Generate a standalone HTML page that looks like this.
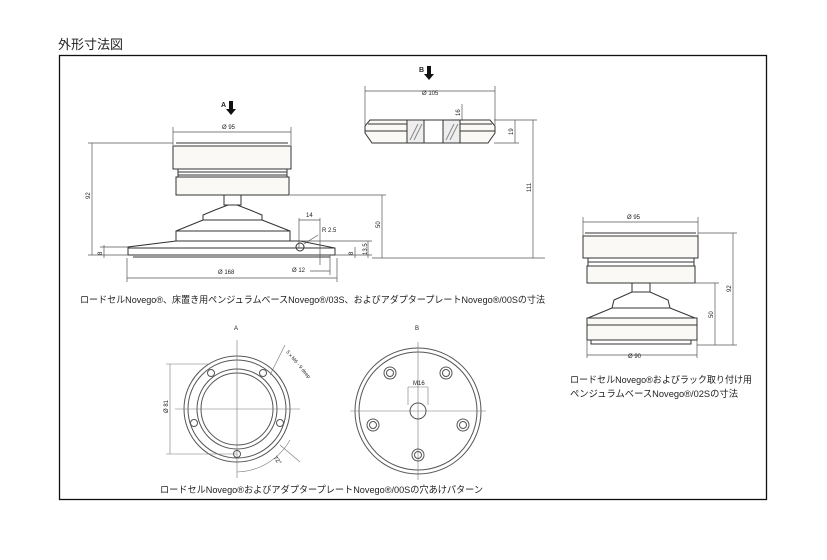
<!DOCTYPE html>
<html><head><meta charset="utf-8"><style>
body{margin:0;background:#fff;width:827px;height:560px;overflow:hidden}
svg{display:block}
text{font-family:"Liberation Sans","Noto Sans CJK JP",sans-serif;fill:#222}
</style></head><body>
<svg width="827" height="560" viewBox="0 0 827 560" xmlns="http://www.w3.org/2000/svg">
<text x="58" y="49" font-size="13">外形寸法図</text>
<rect x="59.5" y="55.5" width="707" height="444" fill="none" stroke="#111" stroke-width="1.3"/>

<g fill="none" stroke="#333" stroke-width="1">
<rect x="173" y="146" width="118" height="23" fill="#fbf9f6"/>
<line x1="176" y1="143" x2="288" y2="143"/><line x1="174" y1="146" x2="290" y2="146"/>
<line x1="178" y1="169" x2="178" y2="177"/><line x1="287" y1="169" x2="287" y2="177"/>
<line x1="178" y1="172" x2="287" y2="172"/><line x1="178" y1="175" x2="287" y2="175"/>
<rect x="176" y="177" width="113" height="18" fill="#fbf9f6"/>
<rect x="224" y="195" width="17" height="10"/>
<path d="M228 205 L237 205 L250 210 L262 215 L262 220 L203 220 L203 215 L215 210 Z"/>
<path d="M203 220 L176 231 L290 231 L262 220"/>
<rect x="176" y="231" width="114" height="10"/>
<path d="M176 241 L128 247 L128 255 L335 255 L335 248 L300 241 Z"/>
<line x1="133" y1="257" x2="330" y2="257"/>
<line x1="128" y1="248" x2="335" y2="248"/>
<circle cx="300" cy="247" r="4"/>
<g stroke="#555" stroke-width="0.7">
<line x1="173" y1="132" x2="291" y2="132"/><line x1="173" y1="127" x2="173" y2="145"/><line x1="291" y1="127" x2="291" y2="145"/>
<line x1="92" y1="143" x2="92" y2="255"/><line x1="88" y1="143" x2="173" y2="143"/><line x1="88" y1="255" x2="128" y2="255"/>
<line x1="104" y1="245" x2="104" y2="258"/><line x1="100" y1="247" x2="128" y2="247"/>
<line x1="127" y1="278" x2="337" y2="278"/><line x1="127" y1="258" x2="127" y2="282"/><line x1="337" y1="258" x2="337" y2="282"/>
<line x1="299" y1="220" x2="320" y2="220"/><line x1="299" y1="218" x2="299" y2="248"/><line x1="320" y1="218" x2="320" y2="265"/>
<line x1="304" y1="244" x2="318" y2="235"/>
<line x1="310" y1="271" x2="330" y2="271"/><line x1="330" y1="255" x2="330" y2="275"/>
<line x1="355" y1="247" x2="355" y2="258"/><line x1="368" y1="241" x2="368" y2="258"/>
<line x1="300" y1="241" x2="372" y2="241"/><line x1="335" y1="255" x2="372" y2="255"/>
<line x1="290" y1="195" x2="386" y2="195"/><line x1="382" y1="195" x2="382" y2="258"/><line x1="372" y1="258" x2="545" y2="258"/>
<line x1="494" y1="120" x2="537" y2="120"/><line x1="533" y1="120" x2="533" y2="258"/>
<line x1="365" y1="91" x2="495" y2="91"/><line x1="365" y1="86" x2="365" y2="125"/><line x1="495" y1="86" x2="495" y2="125"/>
<line x1="515" y1="120" x2="515" y2="143"/><line x1="494" y1="143" x2="519" y2="143"/>
<line x1="462" y1="104" x2="462" y2="143"/>
</g>
<path d="M370 120 L490 120 L495 126 L495 133 L488 143 L372 143 L365 133 L365 126 Z" fill="#fbf9f6"/>
<line x1="368" y1="124" x2="492" y2="124"/><line x1="365" y1="131" x2="495" y2="131"/>
<rect x="407" y="120" width="53" height="23" fill="#eee"/>
<rect x="424" y="120" width="19" height="23" fill="#fff"/>
<path d="M410 140 L418 124 M414 140 L422 124 M446 140 L454 124 M450 140 L458 124" stroke="#888"/>
<rect x="583" y="236" width="115" height="22" fill="#fbf9f6"/>
<line x1="585" y1="233" x2="696" y2="233"/>
<line x1="588" y1="258" x2="588" y2="266"/><line x1="694" y1="258" x2="694" y2="266"/><line x1="588" y1="262" x2="694" y2="262"/>
<rect x="587" y="266" width="108" height="17" fill="#fbf9f6"/>
<rect x="632" y="283" width="18" height="9"/>
<path d="M632 292 L650 292 L668 300 L670 308 L612 308 L614 300 Z"/>
<path d="M612 308 L588 318 L695 318 L670 308"/>
<rect x="587" y="318" width="110" height="22" fill="#fbf9f6"/>
<line x1="587" y1="325" x2="697" y2="325"/>
<rect x="591" y="340" width="100" height="4"/>
<g stroke="#555" stroke-width="0.7">
<line x1="583" y1="222" x2="698" y2="222"/><line x1="583" y1="217" x2="583" y2="236"/><line x1="698" y1="217" x2="698" y2="236"/>
<line x1="587" y1="355" x2="697" y2="355"/><line x1="587" y1="340" x2="587" y2="358"/><line x1="697" y1="340" x2="697" y2="358"/>
<line x1="698" y1="233" x2="737" y2="233"/><line x1="733" y1="233" x2="733" y2="345"/><line x1="697" y1="345" x2="737" y2="345"/>
<line x1="650" y1="283" x2="719" y2="283"/><line x1="715" y1="283" x2="715" y2="345"/>
</g>
<g stroke="#555">
<circle cx="237" cy="409" r="53"/><circle cx="237" cy="409" r="49"/>
<circle cx="237" cy="409" r="40"/><circle cx="237" cy="409" r="36"/>
<g stroke-width="0.6" stroke="#777">
<line x1="237" y1="340" x2="237" y2="478"/><line x1="175" y1="409" x2="300" y2="409"/>
<line x1="170" y1="364" x2="170" y2="454"/><line x1="166" y1="364" x2="210" y2="364"/><line x1="166" y1="454" x2="237" y2="454"/>
<line x1="270" y1="375" x2="285" y2="345"/><line x1="280" y1="445" x2="300" y2="462"/>
<path d="M237 472 A63 63 0 0 0 290 440"/>
</g>
<circle cx="237" cy="454" r="3.5"/><circle cx="194" cy="423" r="3.5"/><circle cx="280" cy="423" r="3.5"/>
<circle cx="211" cy="373" r="3.5"/><circle cx="263" cy="373" r="3.5"/>
</g>
<g stroke="#555">
<circle cx="418" cy="411" r="63"/><circle cx="418" cy="411" r="59"/>
<g stroke-width="0.6" stroke="#777"><line x1="418" y1="342" x2="418" y2="480"/><line x1="350" y1="411" x2="486" y2="411"/>
<line x1="408" y1="387" x2="428" y2="387"/><line x1="408" y1="387" x2="408" y2="405"/><line x1="428" y1="387" x2="428" y2="405"/></g>
<circle cx="418" cy="411" r="8"/>
<circle cx="390" cy="373" r="6"/><circle cx="390" cy="373" r="3.5"/>
<circle cx="446" cy="373" r="6"/><circle cx="446" cy="373" r="3.5"/>
<circle cx="373" cy="425" r="6"/><circle cx="373" cy="425" r="3.5"/>
<circle cx="463" cy="425" r="6"/><circle cx="463" cy="425" r="3.5"/>
<circle cx="418" cy="455" r="6"/><circle cx="418" cy="455" r="3.5"/>
</g>
</g>
<path d="M229 101 h4 v8 h3 l-5 6 l-5 -6 h3 z" fill="#111"/>
<path d="M427 66 h4 v8 h3 l-5 6 l-5 -6 h3 z" fill="#111"/>
<g font-size="6">
<text x="221" y="107" font-size="7" font-weight="bold">A</text>
<text x="419" y="72" font-size="7" font-weight="bold">B</text>
<text x="222" y="129">Ø 95</text>
<text x="422" y="95">Ø 105</text>
<text x="218" y="274">Ø 168</text>
<text x="292" y="272">Ø 12</text>
<text x="306" y="217">14</text>
<text x="322" y="232">R 2.5</text>
<text x="627" y="219">Ø 95</text>
<text x="628" y="358">Ø 90</text>
<text x="413" y="385">M16</text>
<text x="234" y="330">A</text>
<text x="415" y="330">B</text>
<text transform="translate(90,199) rotate(-90)">92</text>
<text transform="translate(102,255) rotate(-90)">8</text>
<text transform="translate(353,255) rotate(-90)">8</text>
<text transform="translate(367,255) rotate(-90)">13.5</text>
<text transform="translate(380,228) rotate(-90)">50</text>
<text transform="translate(531,192) rotate(-90)">111</text>
<text transform="translate(513,135) rotate(-90)">19</text>
<text transform="translate(460,116) rotate(-90)">16</text>
<text transform="translate(731,292) rotate(-90)">92</text>
<text transform="translate(713,318) rotate(-90)">50</text>
<text transform="translate(168,413) rotate(-90)">Ø 81</text>
<text transform="translate(286,352) rotate(50)" font-size="5">5 x M6 - 9 deep</text>
<text transform="translate(273,458) rotate(50)">72°</text>
</g>
<g font-size="9.5">
<text x="80" y="303" textLength="465" lengthAdjust="spacingAndGlyphs">ロードセルNovego®、床置き用ペンジュラムベースNovego®/03S、およびアダプタープレートNovego®/00Sの寸法</text>
<text x="160" y="493" textLength="323" lengthAdjust="spacingAndGlyphs">ロードセルNovego®およびアダプタープレートNovego®/00Sの穴あけパターン</text>
<text x="570" y="383" textLength="182" lengthAdjust="spacingAndGlyphs">ロードセルNovego®およびラック取り付け用</text>
<text x="570" y="397" textLength="168" lengthAdjust="spacingAndGlyphs">ペンジュラムベースNovego®/02Sの寸法</text>
</g>
</svg>
</body></html>
